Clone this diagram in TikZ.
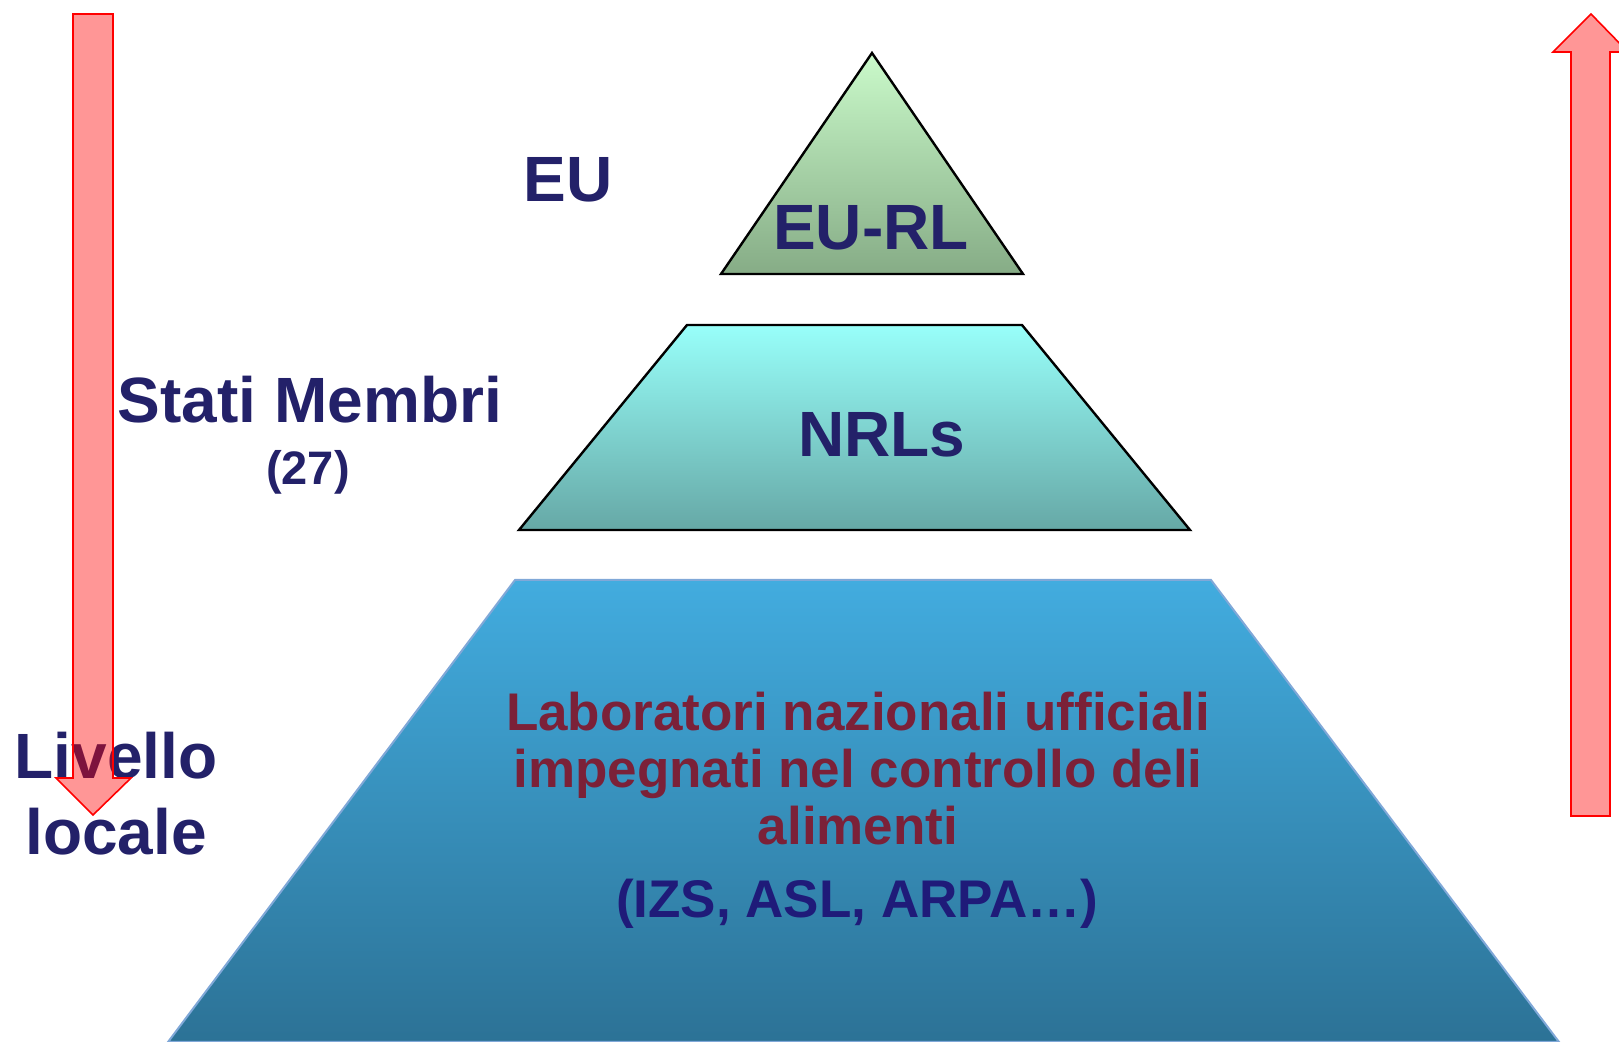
\documentclass[tikz,border=0pt]{standalone}
\usepackage{fontspec}
\setmainfont{Liberation Sans}

\definecolor{navy}{RGB}{35,33,105}
\definecolor{wine}{RGB}{123,33,56}
\definecolor{izsblue}{RGB}{31,27,121}
\definecolor{eutop}{RGB}{202,250,202}
\definecolor{eubot}{RGB}{134,172,134}
\definecolor{nrltop}{RGB}{152,255,250}
\definecolor{nrlmid}{RGB}{138,232,230}
\definecolor{nrlbot}{RGB}{102,168,166}
\definecolor{labtop}{RGB}{66,172,223}
\definecolor{labbot}{RGB}{44,114,150}
\definecolor{labline}{RGB}{128,168,216}

\tikzset{
  lbl/.style={font=\fontsize{32}{38}\selectfont\bfseries, text=navy, anchor=base, inner sep=0pt},
  labtxt/.style={font=\fontsize{26.5}{28}\selectfont\bfseries, text=wine, anchor=base, inner sep=0pt},
  tier/.style={draw=black, line width=1.2pt, line join=miter},
  redarrow/.style={draw=red, line width=0.8pt, fill=red, fill opacity=0.41, line join=miter},
}

\begin{document}
\begin{tikzpicture}[x=0.5pt, y=-0.5pt]
        \useasboundingbox (0,0) rectangle (1619,1042);

        % the three levels
        \shade[tier, top color=eutop, bottom color=eubot] (872,53) -- (1023,274) -- (721,274) -- cycle;
        \shade[tier, top color=nrltop, middle color=nrlmid, bottom color=nrlbot] (687,325) -- (1022,325) -- (1190,530) -- (519,530) -- cycle;
        \shade[draw=labline, line width=1pt, top color=labtop, bottom color=labbot] (515,580) -- (1211,580) -- (1559,1042) -- (168,1042) -- cycle;

        \node[lbl] (eu) at (568,202) {EU};
        \node[lbl] (eurl) at (871,250) {EU-RL};
        \node[lbl] (stati) at (310,423) {Stati Membri};
        \node[lbl, font=\fontsize{23.5}{28}\selectfont\bfseries] (num) at (308,485) {(27)};
        \node[lbl] (nrls) at (882,457) {NRLs};
        \node[lbl] (livello) at (116,779) {Livello};
        \node[lbl] (locale) at (116,855) {locale};

        \node[labtxt] (lab1) at (858,731) {Laboratori nazionali ufficiali};
        \node[labtxt] (lab2) at (858,788) {impegnati nel controllo deli};
        \node[labtxt] (lab3) at (858,845) {alimenti};
        \node[labtxt, text=izsblue] (izs) at (857,918) {(IZS, ASL, ARPA…)};

        % arrows
        \draw[redarrow] (73,14) -- (113,14) -- (113,778) -- (131,778) -- (93,815) -- (56,778) -- (73,778) -- cycle;
        \draw[redarrow] (1591,14) -- (1628,52) -- (1610,52) -- (1610,816) -- (1571,816) -- (1571,52) -- (1553,52) -- cycle;
    \end{tikzpicture}
\end{document}
